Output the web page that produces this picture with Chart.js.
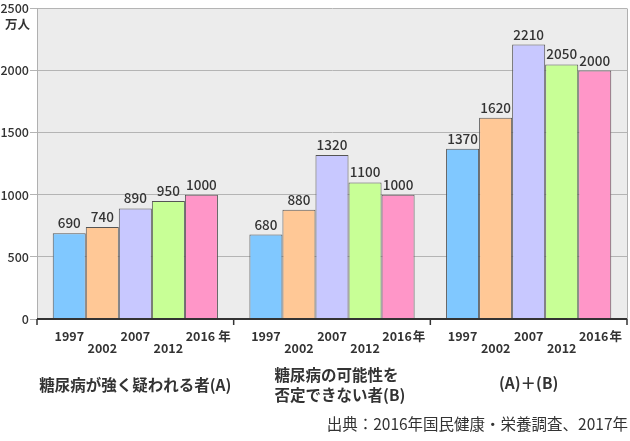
<!DOCTYPE html>
<html><head><meta charset="utf-8">
<script src="https://cdn.jsdelivr.net/npm/chart.js@4/dist/chart.umd.min.js"></script>
<style>html,body{margin:0;padding:0;background:#fff}#wrap{width:630px;height:441px}</style>
</head><body><div id="wrap"><canvas id="c" width="630" height="441"></canvas></div>
<script>
const categories = ['糖尿病が強く疑われる者(A)', ['糖尿病の可能性を', '否定できない者(B)'], '(A)＋(B)'];
const years = ['1997', '2002', '2007', '2012', '2016'];
const v1997 = [690, 680, 1370];
const v2002 = [740, 880, 1620];
const v2007 = [890, 1320, 2210];
const v2012 = [950, 1100, 2050];
const v2016 = [1000, 1000, 2000];
const yTicks = [0, 500, 1000, 1500, 2000, 2500];
const unitLabel = '万人';
const yearSuffix = '年';
const sourceText = '出典：2016年国民健康・栄養調査、2017年';

const colors = ['#80c8ff', '#ffc896', '#c8c8ff', '#c8ff96', '#ff96c8'];
const series = [v1997, v2002, v2007, v2012, v2016];
const FONT = '"Noto Sans CJK JP", "Noto Sans", sans-serif';
const TXT = '#333333';

const deco = {
  id: 'deco',
  beforeDraw(chart) {
    const {ctx, chartArea: a} = chart;
    ctx.save();
    ctx.fillStyle = '#ececec';
    ctx.fillRect(a.left, a.top, a.right - a.left, a.bottom - a.top);
    ctx.restore();
  },
  afterDatasetsDraw(chart) {
    const {ctx, chartArea: a} = chart;
    const xs = chart.scales.x;
    ctx.save();
    ctx.strokeStyle = '#b0b0b0'; ctx.lineWidth = 1;
    ctx.beginPath(); ctx.moveTo(a.right + 0.5, a.top); ctx.lineTo(a.right + 0.5, a.bottom); ctx.stroke();
    ctx.strokeStyle = '#333'; ctx.lineWidth = 2;
    ctx.beginPath(); ctx.moveTo(a.left, a.bottom); ctx.lineTo(a.right, a.bottom); ctx.stroke();
    ctx.lineWidth = 1.5;
    const n = categories.length;
    for (let i = 0; i <= n; i++) {
      const x = a.left + (a.right - a.left) * i / n;
      ctx.beginPath(); ctx.moveTo(x, a.bottom); ctx.lineTo(x, a.bottom + 6); ctx.stroke();
    }
    ctx.fillStyle = TXT;
    ctx.textAlign = 'center';
    chart.data.datasets.forEach((ds, di) => {
      const meta = chart.getDatasetMeta(di);
      meta.data.forEach((el, i) => {
        ctx.font = '500 13.5px ' + FONT;
        ctx.textBaseline = 'alphabetic';
        ctx.fillText(String(ds.data[i]), el.x, el.y - 5);
        ctx.font = 'bold 12.5px ' + FONT;
        ctx.textBaseline = 'middle';
        const yy = (di % 2 === 0) ? a.bottom + 17 : a.bottom + 29;
        if (di === years.length - 1) {
          ctx.textAlign = 'center';
          ctx.fillText(years[di], el.x - 1, yy);
          const w = ctx.measureText(years[di]).width;
          ctx.textAlign = 'left';
          ctx.fillText(yearSuffix, el.x - 1 + w / 2 + (i === 0 ? 3 : 1), yy);
          ctx.textAlign = 'center';
        } else {
          ctx.fillText(years[di], el.x, yy);
        }
      });
    });
    ctx.font = 'bold 15.5px ' + FONT;
    ctx.textBaseline = 'middle';
    categories.forEach((c, i) => {
      const cx = xs.getPixelForValue(i);
      if (Array.isArray(c)) {
        ctx.textAlign = 'left';
        const w = Math.max(...c.map(t => ctx.measureText(t).width));
        c.forEach((t, k) => ctx.fillText(t, cx + 8 - w / 2, 375 + k * 20));
      } else {
        ctx.textAlign = 'center';
        ctx.fillText(c, cx, i === 0 ? 385 : 383);
      }
    });
    ctx.textAlign = 'right';
    ctx.font = 'bold 12.5px ' + FONT;
    ctx.fillText(unitLabel, 30, 24);
    ctx.font = '15.5px ' + FONT;
    ctx.textAlign = 'right';
    ctx.fillText(sourceText, 628, 424);
    ctx.restore();
  }
};

new Chart(document.getElementById('c'), {
  type: 'bar',
  data: {
    labels: categories,
    datasets: years.map((y, i) => ({
      label: y,
      data: series[i],
      backgroundColor: colors[i],
      borderColor: '#555555',
      borderWidth: 1,
      categoryPercentage: 0.84,
      barPercentage: 1.0
    }))
  },
  options: {
    responsive: false,
    animation: false,
    devicePixelRatio: 1,
    layout: {padding: {left: 0, right: 3, top: 8, bottom: 122}},
    plugins: {legend: {display: false}, tooltip: {enabled: false}},
    scales: {
      x: {display: false},
      y: {
        min: 0, max: 2500,
        afterFit: s => { s.width = 37; },
        afterBuildTicks: s => { s.ticks = yTicks.map(v => ({value: v})); },
        ticks: {color: TXT, font: {family: FONT, size: 12.5, weight: '500'}, padding: 1,
                callback: v => String(v)},
        grid: {color: '#b4b4b4', tickLength: 7, lineWidth: 1},
        border: {color: '#b0b0b0'}
      }
    }
  },
  plugins: [deco]
});
</script></body></html>
